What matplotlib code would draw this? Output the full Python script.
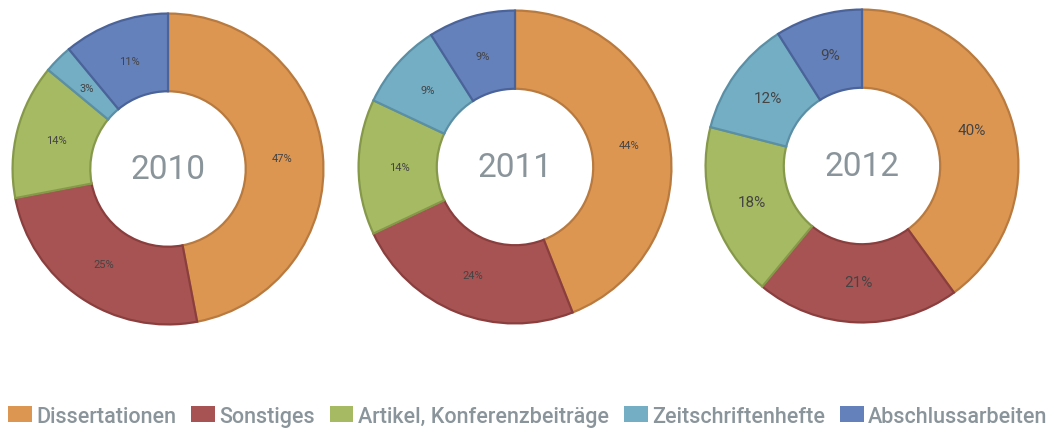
import matplotlib.pyplot as plt
from matplotlib.patches import Patch

# DATA
categories = ["Dissertationen", "Sonstiges", "Artikel, Konferenzbeiträge",
              "Zeitschriftenhefte", "Abschlussarbeiten"]
years = ["2010", "2011", "2012"]
values_2010 = [47, 25, 14, 3, 11]
values_2011 = [44, 24, 14, 9, 9]
values_2012 = [40, 21, 18, 12, 9]

colors = ["#DD9652", "#A85353", "#A5BA62", "#74AEC5", "#6581BC"]
edges = ["#B87A3E", "#8A3E3E", "#86994A", "#5A8FA5", "#4A6399"]

plt.rcParams['font.family'] = ['Roboto', 'DejaVu Sans']

W, H = 1049, 431
fig = plt.figure(figsize=(W / 100, H / 100), dpi=100)

# (center x, center y from top, radius, label size)
layout = [(168, 170, 157, 8), (515, 168, 158, 8), (862, 167, 158, 11)]

for vals, year, (cx, cy, r, fs) in zip([values_2010, values_2011, values_2012], years, layout):
    ax = fig.add_axes([(cx - r) / W, (H - cy - r) / H, 2 * r / W, 2 * r / H])
    wedges, texts, autotexts = ax.pie(
        vals, colors=colors, startangle=90, counterclock=False, radius=1,
        autopct=lambda p: f"{p:.0f}%", pctdistance=0.74,
        wedgeprops=dict(width=0.5, linewidth=1.6))
    for w, ec in zip(wedges, edges):
        w.set_edgecolor(ec)
    for t in autotexts:
        t.set_fontsize(fs)
        t.set_color("#444444")
    ax.text(0, 0, year, ha="center", va="center", fontsize=24, color="#8A959B")
    ax.set_xlim(-1.01, 1.01)
    ax.set_ylim(-1.01, 1.01)
    ax.set_aspect("equal")
    ax.axis("off")

handles = [Patch(facecolor=c, edgecolor="none") for c in colors]
leg = fig.legend(handles, categories, loc="lower center", bbox_to_anchor=(0.503, -0.022),
                 ncol=5, frameon=False, fontsize=15.5, labelcolor="#8A959B",
                 handlelength=1.1, handleheight=0.75, handletextpad=0.2,
                 columnspacing=0.7, borderaxespad=0.2)
for t in leg.get_texts():
    t.set_fontweight("medium")

fig.savefig("out.png", dpi=100)
